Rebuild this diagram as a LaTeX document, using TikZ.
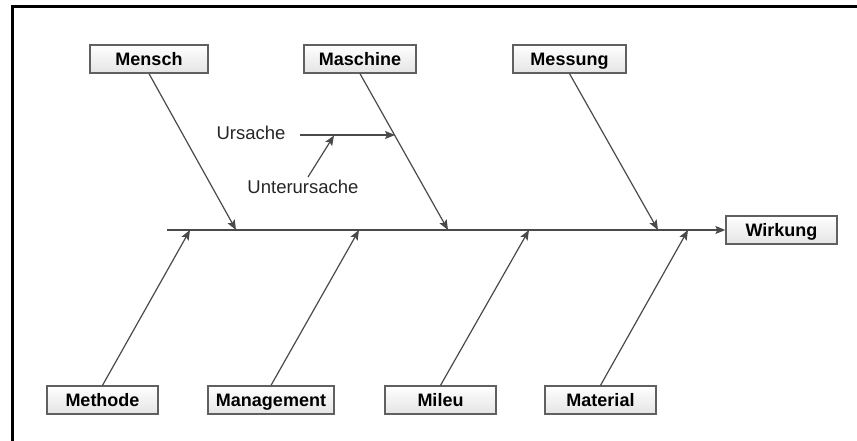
\documentclass[tikz,border=0pt]{standalone}
\usepackage{fontspec}
\setmainfont{Liberation Sans}
\usetikzlibrary{arrows.meta}
\definecolor{boneline}{HTML}{4A4A4A}
\definecolor{boxline}{HTML}{606060}
\definecolor{boxfill}{HTML}{E4E4E4}
\begin{document}
\begin{tikzpicture}[x=1pt,y=-1pt,
  catbox/.style={draw=boxline, line width=1.3pt, top color=white, bottom color=boxfill,
    minimum height=28pt, minimum width=111pt, inner sep=0pt,
    text height=13pt, text depth=0pt,
    font=\fontsize{18}{21}\selectfont\bfseries},
  bone/.style={draw=boneline, line width=1.2pt,
    -{Stealth[length=10pt,width=8pt,inset=2pt]}},
  lbl/.style={font=\fontsize{18.5}{22}\selectfont, inner sep=0pt, text=black!85}]
\useasboundingbox (0,0) rectangle (857,441);

% outer frame (left and top edges)
\draw[line width=3pt] (12,441) -- (12,6.5) -- (857,6.5);

% category boxes
\node[catbox, minimum width=118pt] (mensch)   at (149,59)   {Mensch};
\node[catbox, minimum width=112pt] (maschine) at (360,59)   {Maschine};
\node[catbox, minimum width=113pt] (messung)  at (569.5,59) {Messung};
\node[catbox]                      (wirkung)  at (781.5,230) {Wirkung};
\node[catbox]                      (methode)  at (102.5,400) {Methode};
\node[catbox, minimum width=126pt] (management) at (271,400) {Management};
\node[catbox]                      (mileu)    at (440.5,400) {Mileu};
\node[catbox]                      (material) at (600.5,400) {Material};

% spine
\coordinate (tail) at (167,230);
\draw[bone] (tail) -- (wirkung.west);

% points where the bones meet the spine
\coordinate (m1) at (236,230);
\coordinate (m2) at (448,230);
\coordinate (m3) at (658,230);
\coordinate (b1) at (190,230);
\coordinate (b2) at (359,230);
\coordinate (b3) at (529,230);
\coordinate (b4) at (688,230);

\draw[bone] (mensch.south)   -- (m1);
\draw[bone] (maschine.south) -- (m2);
\draw[bone] (messung.south)  -- (m3);
\draw[bone] (methode.north)  -- (b1);
\draw[bone] (management.north) -- (b2);
\draw[bone] (mileu.north)    -- (b3);
\draw[bone] (material.north) -- (b4);

% cause and sub-cause legend
\node[lbl] (ursache) at (251,133) {Ursache};
\node[lbl] (unter)   at (303,187) {Unterursache};
\coordinate (ustart) at (300,135);
\coordinate (uend)   at (395,135);
\coordinate (sstart) at (308,177);
\coordinate (send)   at (334,135.5);
\draw[bone] (ustart) -- (uend);
\draw[bone] (sstart) -- (send);
\end{tikzpicture}
\end{document}
